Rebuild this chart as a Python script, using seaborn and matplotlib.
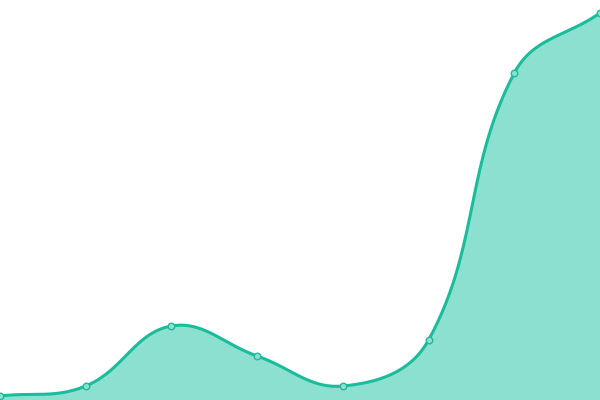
import matplotlib
matplotlib.use("Agg")
import matplotlib.pyplot as plt
import numpy as np
import pandas as pd
import seaborn as sns

# data (value = height above the bottom edge)
positions = [0, 1, 2, 3, 4, 5, 6, 7]
values = [4, 14, 74, 44, 14, 60, 327, 387]

LINE = "#1abc9c"
FILL = "#8ce0cf"

sns.set_theme(style="white")

# pixel scale used for the smoothing (chart area is 600x400)
sx = 600 / 7.0
px = np.array(positions, dtype=float) * sx
py = np.array(values, dtype=float)


def spline_controls(x, y, tension=0.4):
    # chart.js style control points for a smooth curve through the points
    n = len(x)
    c1 = []
    c2 = []
    for i in range(n):
        p0 = (x[max(i - 1, 0)], y[max(i - 1, 0)])
        p1 = (x[i], y[i])
        p2 = (x[min(i + 1, n - 1)], y[min(i + 1, n - 1)])
        d01 = np.hypot(p1[0] - p0[0], p1[1] - p0[1])
        d12 = np.hypot(p2[0] - p1[0], p2[1] - p1[1])
        tot = d01 + d12
        s01 = d01 / tot if tot else 0
        s12 = d12 / tot if tot else 0
        fa = tension * s01
        fb = tension * s12
        c1.append((p1[0] - fa * (p2[0] - p0[0]), p1[1] - fa * (p2[1] - p0[1])))
        c2.append((p1[0] + fb * (p2[0] - p0[0]), p1[1] + fb * (p2[1] - p0[1])))
    return c1, c2


c_prev, c_next = spline_controls(px, py)
cx, cy = [], []
t = np.linspace(0, 1, 60)
for i in range(len(px) - 1):
    a = np.array([px[i], py[i]])
    b = np.array(c_next[i])
    c = np.array(c_prev[i + 1])
    d = np.array([px[i + 1], py[i + 1]])
    seg = ((1 - t) ** 3)[:, None] * a + (3 * (1 - t) ** 2 * t)[:, None] * b \
        + (3 * (1 - t) * t ** 2)[:, None] * c + (t ** 3)[:, None] * d
    cx.extend(seg[:, 0] / sx)
    cy.extend(seg[:, 1])

curve = pd.DataFrame({"x": cx, "y": np.clip(cy, 0, 400)})
points = pd.DataFrame({"x": positions, "y": values})

fig = plt.figure(figsize=(6, 4), dpi=100)
ax = fig.add_axes([0, 0, 1, 1])

ax.fill_between(curve["x"], 0, curve["y"], color=FILL, linewidth=0)
sns.lineplot(data=curve, x="x", y="y", sort=False, color=LINE, linewidth=2.2, ax=ax)
sns.scatterplot(data=points, x="x", y="y", s=22, color=FILL, edgecolor=LINE,
                linewidth=1.0, zorder=5, ax=ax)

ax.set_xlim(0, 7)
ax.set_ylim(0, 400)
ax.axis("off")

plt.savefig("out.png", dpi=100)
